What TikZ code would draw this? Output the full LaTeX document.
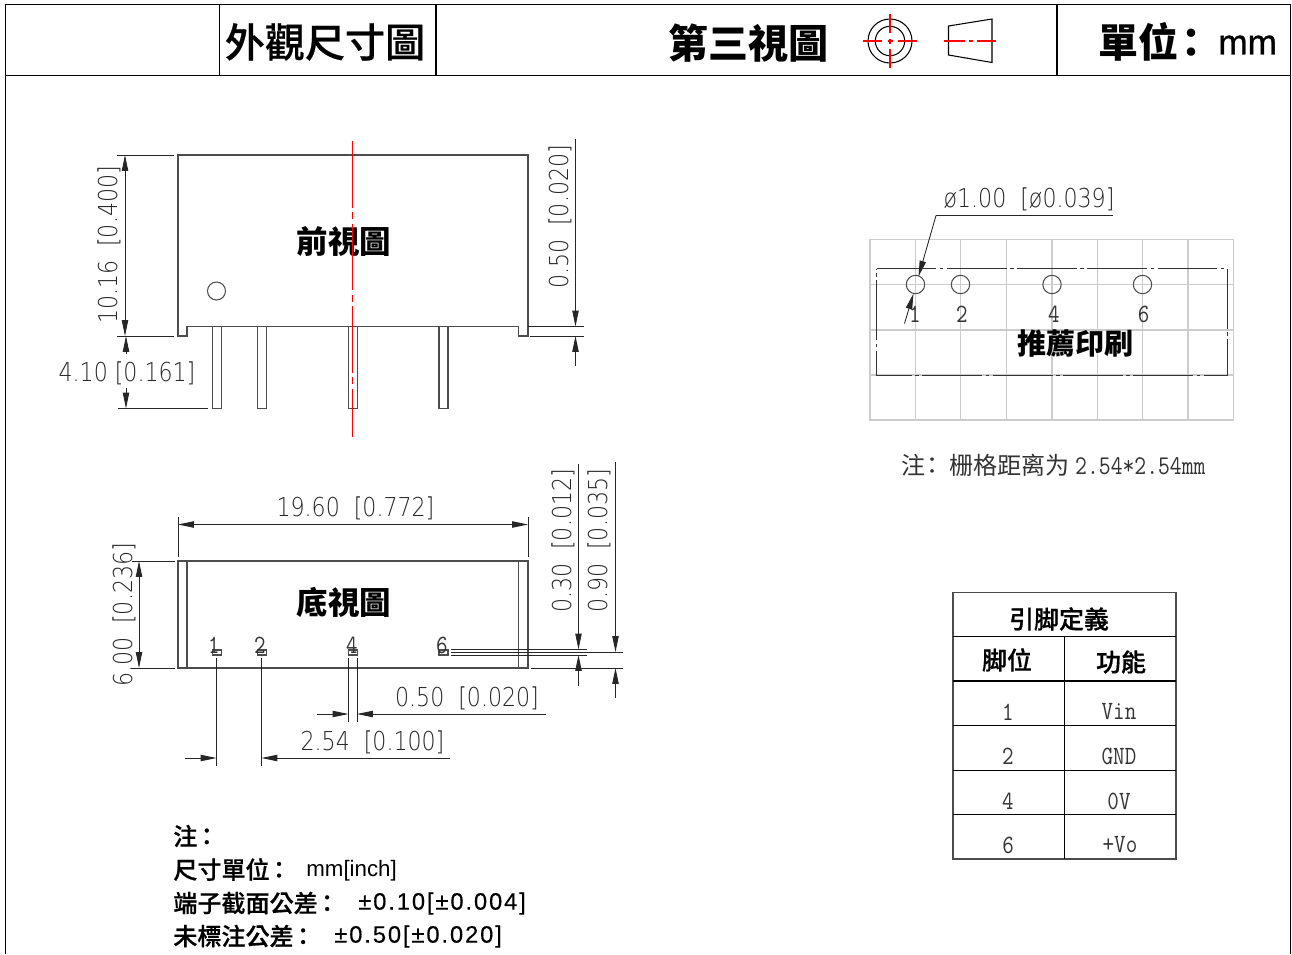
\documentclass[tikz,border=0pt]{standalone}
\usepackage{fontspec}
\usetikzlibrary{arrows.meta}

\newfontfamily\cjkfont{Noto Sans CJK TC}
\newfontfamily\cjkmedium[FakeBold=0.6]{Noto Sans CJK TC Medium}
\newfontfamily\dimfont[FakeStretch=0.85]{DejaVu Sans ExtraLight}
\newfontfamily\pinfont[FakeStretch=0.85]{Latin Modern Mono}
\newfontfamily\notefont[LetterSpace=8,FakeBold=0.4]{Liberation Sans}
\newfontfamily\unitfont[FakeBold=1]{Liberation Sans}
\newfontfamily\inchfont{Liberation Sans}

\tikzset{
  frameline/.style={line width=0.6pt, black},
  partline/.style={line width=0.6pt, black!70},
  dimline/.style={line width=0.5pt, black!85},
  dimtip/.tip={Triangle[length=9pt,width=3.6pt]},
  thinred/.style={line width=0.6pt, red},
  redline/.style={line width=0.55pt, red, dash pattern=on 38pt off 2.5pt on 4pt off 2.5pt},
  gridline/.style={line width=0.7pt, black!20},
  dimtext/.style={inner sep=0pt, text=black!85, font=\dimfont\fontsize{14.8}{14.8}\selectfont},
  titletext/.style={inner sep=0pt, font=\cjkfont\bfseries\fontsize{22.8}{22.8}\selectfont},
  viewtext/.style={inner sep=0pt, font=\cjkfont\bfseries\fontsize{17.9}{17.9}\selectfont},
  tabletext/.style={inner sep=0pt, font=\cjkmedium\fontsize{14.2}{14.2}\selectfont},
  pintext/.style={inner sep=0pt, text=black!80, font=\pinfont\fontsize{15}{15}\selectfont},
  notetext/.style={anchor=west, inner sep=0pt, font=\cjkmedium\fontsize{13.7}{13.7}\selectfont}
}

\begin{document}
\begin{tikzpicture}[x=0.02cm,y=-0.02cm]

\useasboundingbox (0,0) rectangle (1292,954);

% header
\draw [frameline] (5.5,954) -- (5.5,4.5) -- (1290.5,4.5) -- (1290.5,954);
\draw [frameline] (5.5,75.5) -- (1290.5,75.5);
\draw [frameline] (219.5,4.5) -- (219.5,75.5);
\draw [frameline] (436,4.5) -- (436,75.5);
\draw [frameline] (1057,4.5) -- (1057,75.5);

\node [titletext, font=\cjkmedium\fontsize{22.8}{22.8}\selectfont] (outline) at (325,42) {外觀尺寸圖};
\node [titletext] (thirdangle) at (748.5,43) {第三視圖};
\node [titletext, anchor=west] (unit) at (1098,42) {單位\kern-4pt：};
\node [inner sep=0pt, anchor=west, font=\unitfont\fontsize{20}{20}\selectfont] (unitmm) at (1218,45) {mm};

\draw [frameline] (890,41) circle (22);
\draw [frameline] (890,41) circle (14.7);
\draw [thinred] (862.5,41) -- (882,41);
\draw [thinred] (887.5,41) -- (892.5,41);
\draw [thinred] (898,41) -- (917,41);
\draw [thinred] (890,14) -- (890,33);
\draw [thinred] (890,38.5) -- (890,43.5);
\draw [thinred] (890,49) -- (890,67.5);

\draw [frameline] (948.5,26) -- (992,19) -- (992,62.5) -- (948.5,55) -- cycle;
\draw [thinred] (944,41) -- (965,41);
\draw [thinred] (969,41) -- (973,41);
\draw [thinred] (977,41) -- (996,41);

% front view
\draw [partline] (178,155) -- (528,155) -- (528,336) -- (518.5,336) -- (518.5,326.5) -- (187,326.5) -- (187,336) -- (178,336) -- cycle;
\draw [partline] (212.5,326.5) rectangle (221.5,408.5);
\draw [partline] (257.5,326.5) rectangle (266.5,408.5);
\draw [partline] (348.5,326.5) rectangle (357.5,408.5);
\draw [partline] (439,326.5) rectangle (448,408.5);
\draw [partline] (216.5,291) circle (9);

\node [viewtext] (front) at (344,242) {前視圖};
\draw [redline] (352.5,141) -- (352.5,437);

\draw [dimline] (117,155) -- (174,155);
\draw [dimline] (117,336) -- (174,336);
\draw [dimline] (118,408.5) -- (208,408.5);
\draw [dimline, dimtip-dimtip] (125,155) -- (125,336);
\draw [dimline, -dimtip] (126,354) -- (126,336);
\draw [dimline, -dimtip] (126,388) -- (126,408.5);
\node [dimtext, rotate=90] (height) at (109,245) {10.16~~[0.400]};
\node [dimtext] (pinlength) at (127,373) {4.10~[0.161]};

\draw [dimline] (528,326.5) -- (584,326.5);
\draw [dimline] (530,336) -- (584,336);
\draw [dimline, -dimtip] (575.5,139) -- (575.5,326.5);
\draw [dimline, -dimtip] (575.5,366) -- (575.5,336);
\node [dimtext, rotate=90] (standoff) at (560,217) {0.50~~[0.020]};

% bottom view
\draw [partline] (178,561) rectangle (528,668);
\draw [partline] (187,561) -- (187,668);
\draw [partline] (518.5,561) -- (518.5,668);
\draw [partline] (212.5,650) rectangle (221.5,655);
\draw [partline] (257.5,650) rectangle (266.5,655);
\draw [partline] (348.5,650) rectangle (357.5,655);
\draw [partline] (439,650) rectangle (448,655);

\node [pintext] (bottom1) at (214,645) {1};
\node [pintext] (bottom2) at (260,645) {2};
\node [pintext] (bottom4) at (352,645) {4};
\node [pintext] (bottom6) at (442,645) {6};
\node [viewtext] (bottom) at (344,602) {底視圖};

\draw [dimline] (178,517) -- (178,557);
\draw [dimline] (528,517) -- (528,557);
\draw [dimline, dimtip-dimtip] (178,524.5) -- (528,524.5);
\node [dimtext] (length) at (355.5,508) {19.60~~[0.772]};

\draw [dimline] (132,561) -- (175,561);
\draw [dimline] (132,668) -- (175,668);
\draw [dimline, dimtip-dimtip] (139,561) -- (139,668);
\node [dimtext, rotate=90] (width) at (124,615) {6.00~~[0.236]};

\draw [dimline] (348.5,658) -- (348.5,722);
\draw [dimline] (357,658) -- (357,722);
\draw [dimline, -dimtip] (317,714) -- (348.5,714);
\draw [dimline, -dimtip] (546,714) -- (357,714);
\node [dimtext] (pinwidth) at (467,698) {0.50~~[0.020]};

\draw [dimline] (216.5,658) -- (216.5,766);
\draw [dimline] (261.5,658) -- (261.5,766);
\draw [dimline, -dimtip] (185,758) -- (216.5,758);
\draw [dimline, -dimtip] (450,758) -- (261.5,758);
\node [dimtext] (pitch) at (372.5,742) {2.54~~[0.100]};

\draw [dimline] (451,649.5) -- (587,649.5);
\draw [dimline] (451,652) -- (623,652);
\draw [dimline] (451,655) -- (587,655);
\draw [dimline] (531,668) -- (623,668);
\draw [dimline, -dimtip] (578.5,464) -- (578.5,649.5);
\draw [dimline, -dimtip] (578.5,686) -- (578.5,655);
\draw [dimline, -dimtip] (615.5,462) -- (615.5,652);
\draw [dimline, -dimtip] (615.5,698) -- (615.5,668);
\node [dimtext, rotate=90] (thickness) at (563,541) {0.30~~[0.012]};
\node [dimtext, rotate=90] (pitchwidth) at (599,541) {0.90~~[0.035]};

% recommended layout
\draw [gridline] (870,239.5) rectangle (1233.5,420);
\draw [gridline] (870,284.5) -- (1233.5,284.5);
\draw [gridline] (870,330) -- (1233.5,330);
\draw [gridline] (870,375) -- (1233.5,375);
\draw [gridline] (915.5,239.5) -- (915.5,420);
\draw [gridline] (960.5,239.5) -- (960.5,420);
\draw [gridline] (1006.5,239.5) -- (1006.5,420);
\draw [gridline] (1052,239.5) -- (1052,420);
\draw [gridline] (1097.5,239.5) -- (1097.5,420);
\draw [gridline] (1142.5,239.5) -- (1142.5,420);
\draw [gridline] (1188,239.5) -- (1188,420);

\draw [line width=0.55pt, black!80, dash pattern=on 34pt off 2pt on 2pt off 2pt] (876.5,268.5) -- (1227.5,268.5) -- (1227.5,375) -- (876.5,375) -- cycle;

\draw [partline] (915.5,284.5) circle (9.2);
\draw [partline] (960.5,284.5) circle (9.2);
\draw [partline] (1052,284.5) circle (9.2);
\draw [partline] (1142.5,284.5) circle (9.2);

\node [pintext] (layout1) at (915,314) {1};
\node [pintext] (layout2) at (962,314) {2};
\node [pintext] (layout4) at (1054,314) {4};
\node [pintext] (layout6) at (1143.5,314) {6};
\node [viewtext, font=\cjkfont\bfseries\fontsize{16.5}{16.5}\selectfont] (layout) at (1075,344) {推薦印刷};

\coordinate (leaderend) at (1113,215.5);
\coordinate (leaderbend) at (936,215.5);
\coordinate (leadertipa) at (918.5,276.5);
\coordinate (leadertipb) at (913.5,293.5);
\coordinate (leaderfoot) at (904.5,323.5);
\draw [dimline] (leaderend) -- (leaderbend);
\draw [dimline, -dimtip] (leaderbend) -- (leadertipa);
\draw [dimline, -dimtip] (leaderfoot) -- (leadertipb);
\node [dimtext] (holesize) at (1029,199) {ø1.00~~[ø0.039]};

\node [inner sep=0pt, anchor=west, text=black!80, font=\cjkfont\fontsize{13.7}{13.7}\selectfont] (gridnote) at (901,465) {注\kern-3pt：\kern3pt栅格距离为 {\pinfont\fontsize{15.4}{15.4}\selectfont 2.54*2.54mm}};

% pin table
\draw [partline] (953,592.5) rectangle (1176,859);
\draw [frameline] (953,636.5) -- (1176,636.5);
\draw [frameline] (953,681) -- (1176,681);
\draw [frameline] (953,725.5) -- (1176,725.5);
\draw [frameline] (953,770.5) -- (1176,770.5);
\draw [frameline] (953,814.5) -- (1176,814.5);
\draw [frameline] (1064.5,636.5) -- (1064.5,859);

\node [tabletext] (pintitle) at (1059,619) {引脚定義};
\node [tabletext] (pinhead) at (1007,660) {脚位};
\node [tabletext] (funchead) at (1121,662) {功能};
\node [pintext] (row1) at (1008,712) {1};
\node [pintext] (row2) at (1008,756) {2};
\node [pintext] (row4) at (1008,801) {4};
\node [pintext] (row6) at (1008,845) {6};
\node [pintext] (vin) at (1119,712) {Vin};
\node [pintext] (gnd) at (1119,756) {GND};
\node [pintext] (zerov) at (1119,801) {0V};
\node [pintext] (vo) at (1120,845) {+Vo};

% notes
\node [notetext] (notehead) at (173,836) {注\kern-1.5pt：};
\node [notetext] (noteunit) at (173,869.5) {尺寸單位\kern-1.5pt：};
\node [notetext] (noteterm) at (173,903) {端子截面公差\kern-1.5pt：};
\node [notetext] (noteother) at (173,936) {未標注公差\kern-1.5pt：};
\node [inner sep=0pt, anchor=west, font=\inchfont\fontsize{12.7}{12.7}\selectfont] (noteunitv) at (306,871) {mm[inch]};
\node [inner sep=0pt, anchor=west, font=\notefont\fontsize{13.5}{13.5}\selectfont] (notetermv) at (358,903.5) {±0.10[±0.004]};
\node [inner sep=0pt, anchor=west, font=\notefont\fontsize{13.5}{13.5}\selectfont] (noteotherv) at (334,936.5) {±0.50[±0.020]};

\end{tikzpicture}
\end{document}
